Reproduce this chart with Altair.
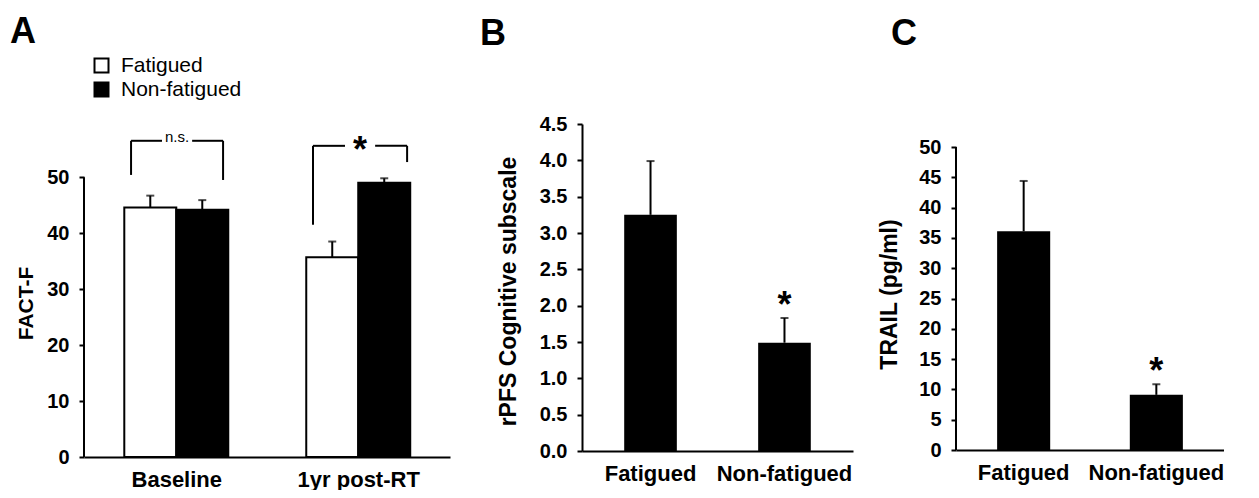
import altair as alt
import pandas as pd

FONT = "Liberation Sans"

# ---------------- Panel A data ----------------
a_groups = ["Baseline", "Baseline", "1yr post-RT", "1yr post-RT"]
a_status = ["Fatigued", "Non-fatigued", "Fatigued", "Non-fatigued"]
a_mean = [44.6, 44.2, 35.7, 49.0]
a_err_top = [46.7, 45.9, 38.5, 49.8]
a_start = [0.0, 1.0, 3.5, 4.5]          # bar left edges, in bar-width units
a_group_labels = ["Baseline", "1yr post-RT"]
a_group_centers = [1.0, 4.5]
a_ticks = [0, 10, 20, 30, 40, 50]

# significance brackets (panel A)
br_left = [0.13, 3.63]
br_right = [1.90, 5.44]
br_top = [56.5, 55.6]
br_left_bottom = [50.4, 41.5]
br_right_bottom = [49.5, 52.7]
br_label = ["n.s.", "*"]

# ---------------- Panel B data ----------------
b_cat = ["Fatigued", "Non-fatigued"]
b_mean = [3.25, 1.49]
b_err_top = [3.99, 1.83]
b_sig = ["", "*"]
b_ticks = [0, 0.5, 1.0, 1.5, 2.0, 2.5, 3.0, 3.5, 4.0, 4.5]

# ---------------- Panel C data ----------------
c_cat = ["Fatigued", "Non-fatigued"]
c_mean = [36.1, 9.1]
c_err_top = [44.4, 10.85]
c_sig = ["", "*"]
c_ticks = [0, 5, 10, 15, 20, 25, 30, 35, 40, 45, 50]

TICK_FS = 20
XLAB_FS = 22
LETTER_FS = 36

# ================= Panel A =================
dfa = pd.DataFrame({"group": a_groups, "status": a_status, "mean": a_mean,
                    "err": a_err_top, "x0": a_start})
dfa["x1"] = dfa["x0"] + 1
dfa["xc"] = dfa["x0"] + 0.5
dfa["zero"] = 0

label_expr = "''"
for v, lab in reversed(list(zip(a_group_centers, a_group_labels))):
    label_expr = f"datum.value == {v} ? '{lab}' : {label_expr}"

xA_scale = alt.Scale(domain=[-0.775, 6.265], nice=False, zero=False)
yA_scale = alt.Scale(domain=[0, 59.5], nice=False, zero=True)
xA_axis = alt.Axis(values=a_group_centers, labelExpr=label_expr, title=None,
                   ticks=False, tickSize=0, labelFontSize=XLAB_FS, labelPadding=12)
yA_axis = alt.Axis(values=a_ticks, title="FACT-F", domain=False, titleY=179,
                   titleFontSize=21, labelPadding=10, titlePadding=10)

baseA = alt.Chart(dfa)
barsA = baseA.mark_rect(stroke="black", strokeWidth=2).encode(
    x=alt.X("x0:Q", scale=xA_scale, axis=xA_axis),
    x2="x1:Q",
    y=alt.Y("mean:Q", scale=yA_scale, axis=yA_axis),
    y2="zero:Q",
    fill=alt.Fill("status:N",
                  scale=alt.Scale(domain=["Fatigued", "Non-fatigued"], range=["white", "black"]),
                  legend=alt.Legend(title=None, orient="none", legendX=7, legendY=-69,
                                    symbolType="square", symbolSize=196,
                                    symbolStrokeColor="black", symbolStrokeWidth=2,
                                    symbolOpacity=1, labelFontSize=21, labelFont=FONT,
                                    labelFontWeight="normal", labelColor="black",
                                    labelOffset=9, rowPadding=1, padding=0)),
)
errA = baseA.mark_rule(color="black", strokeWidth=2).encode(
    x=alt.X("xc:Q", scale=xA_scale, axis=xA_axis),
    y=alt.Y("mean:Q", scale=yA_scale, axis=yA_axis),
    y2="err:Q",
)
capA = baseA.mark_tick(color="black", orient="horizontal", size=8, thickness=2).encode(
    x=alt.X("xc:Q", scale=xA_scale, axis=xA_axis),
    y=alt.Y("err:Q", scale=yA_scale, axis=yA_axis),
)
yline_A = alt.Chart(pd.DataFrame({"lo": [min(a_ticks)], "hi": [max(a_ticks)]})).mark_rule(
    color="black", strokeWidth=2).encode(
    x=alt.value(0),
    y=alt.Y("lo:Q", scale=yA_scale, axis=yA_axis),
    y2="hi:Q",
)

# brackets
gap = 0.29
segs = []
labs = []
for l, r, t, lb, rb, txt in zip(br_left, br_right, br_top, br_left_bottom, br_right_bottom, br_label):
    c = (l + r) / 2
    segs += [
        {"x": l, "x2": l, "y": lb, "y2": t},
        {"x": l, "x2": c - gap, "y": t, "y2": t},
        {"x": c + gap, "x2": r, "y": t, "y2": t},
        {"x": r, "x2": r, "y": rb, "y2": t},
    ]
    labs.append({"x": c, "y": t, "label": txt})
dfseg = pd.DataFrame(segs)
dflab = pd.DataFrame(labs)

bracketA = alt.Chart(dfseg).mark_rule(color="black", strokeWidth=2).encode(
    x=alt.X("x:Q", scale=xA_scale, axis=xA_axis), x2="x2:Q",
    y=alt.Y("y:Q", scale=yA_scale, axis=yA_axis), y2="y2:Q",
)
nsA = alt.Chart(dflab).transform_filter("datum.label == 'n.s.'").mark_text(
    font=FONT, fontSize=15, color="black", baseline="alphabetic", dy=1).encode(
    x=alt.X("x:Q", scale=xA_scale, axis=xA_axis),
    y=alt.Y("y:Q", scale=yA_scale, axis=yA_axis),
    text="label:N",
)
starA = alt.Chart(dflab).transform_filter("datum.label == '*'").mark_text(
    font=FONT, fontSize=36, fontWeight="bold", color="black", baseline="alphabetic", dy=16).encode(
    x=alt.X("x:Q", scale=xA_scale, axis=xA_axis),
    y=alt.Y("y:Q", scale=yA_scale, axis=yA_axis),
    text="label:N",
)

panelA = alt.layer(barsA, errA, capA, yline_A, bracketA, nsA, starA).properties(
    width=366, height=333,
    title=alt.TitleParams("A", anchor="start", frame="group", dx=-74, offset=4,
                          fontSize=LETTER_FS),
)


# ================= Panels B and C =================
def single_panel(cats, means, errs, sigs, ticks, ymax, title, letter, fmt,
                 width, height, pin, pout, ytitle_y, dx, dy, manual_axis, lab_pad, title_pad):
    df = pd.DataFrame({"cat": cats, "mean": means, "err": errs, "sig": sigs})
    x = alt.X("cat:N", sort=cats,
              scale=alt.Scale(paddingInner=pin, paddingOuter=pout),
              axis=alt.Axis(title=None, labelAngle=0, ticks=False, tickSize=0,
                            labelFontSize=XLAB_FS, labelPadding=12))
    ysc = alt.Scale(domain=[0, ymax], nice=False, zero=True)
    yax = alt.Axis(values=ticks, format=fmt, title=title, domain=not manual_axis,
                   titleFontSize=23, titleY=ytitle_y, labelPadding=lab_pad,
                   titlePadding=title_pad)
    base = alt.Chart(df)
    bars = base.mark_bar(color="black").encode(x=x, y=alt.Y("mean:Q", scale=ysc, axis=yax))
    err = base.mark_rule(color="black", strokeWidth=2).encode(
        x=x, y=alt.Y("mean:Q", scale=ysc, axis=yax), y2="err:Q")
    cap = base.mark_tick(color="black", orient="horizontal", size=8, thickness=2).encode(
        x=x, y=alt.Y("err:Q", scale=ysc, axis=yax))
    star = base.mark_text(font=FONT, fontSize=36, fontWeight="bold", color="black",
                          baseline="alphabetic", dy=-1).encode(
        x=x, y=alt.Y("err:Q", scale=ysc, axis=yax), text="sig:N")
    layers = [bars, err, cap, star]
    if manual_axis:
        yline = alt.Chart(pd.DataFrame({"lo": [min(ticks)], "hi": [max(ticks)]})).mark_rule(
            color="black", strokeWidth=2).encode(
            x=alt.value(0), y=alt.Y("lo:Q", scale=ysc, axis=yax), y2="hi:Q")
        layers.append(yline)
    return alt.layer(*layers).properties(
        width=width, height=height,
        title=alt.TitleParams(letter, anchor="start", frame="group", dx=dx, dy=dy,
                              fontSize=LETTER_FS),
    )


panelB = single_panel(b_cat, b_mean, b_err_top, b_sig, b_ticks, 4.5,
                      "rPFS Cognitive subscale", "B", ".1f",
                      271, 327, 0.607, 0.315, 167, -102, -57, False, 10, 19)
panelC = single_panel(c_cat, c_mean, c_err_top, c_sig, c_ticks, 53.8,
                      "TRAIL (pg/ml)", "C", "d",
                      268, 326, 0.60, 0.31, 170, -65, -67, True, 10, 17)

chart = alt.hconcat(
    panelA,
    alt.hconcat(panelB, panelC, spacing=25),
    spacing=30,
).resolve_scale(fill="independent").properties(
    padding={"left": 2, "top": 6, "right": 0, "bottom": 0}
).configure_view(stroke=None).configure_axis(
    domainColor="black", domainWidth=2, tickColor="black", tickWidth=2, tickSize=5,
    labelColor="black", labelFont=FONT, labelFontSize=TICK_FS, labelFontWeight="bold",
    titleColor="black", titleFont=FONT, titleFontSize=21, titleFontWeight="bold",
    grid=False,
).configure_title(font=FONT, fontWeight="bold", color="black").configure_text(font=FONT)

chart.save("out.html", embed_options={"renderer": "svg", "actions": False})
